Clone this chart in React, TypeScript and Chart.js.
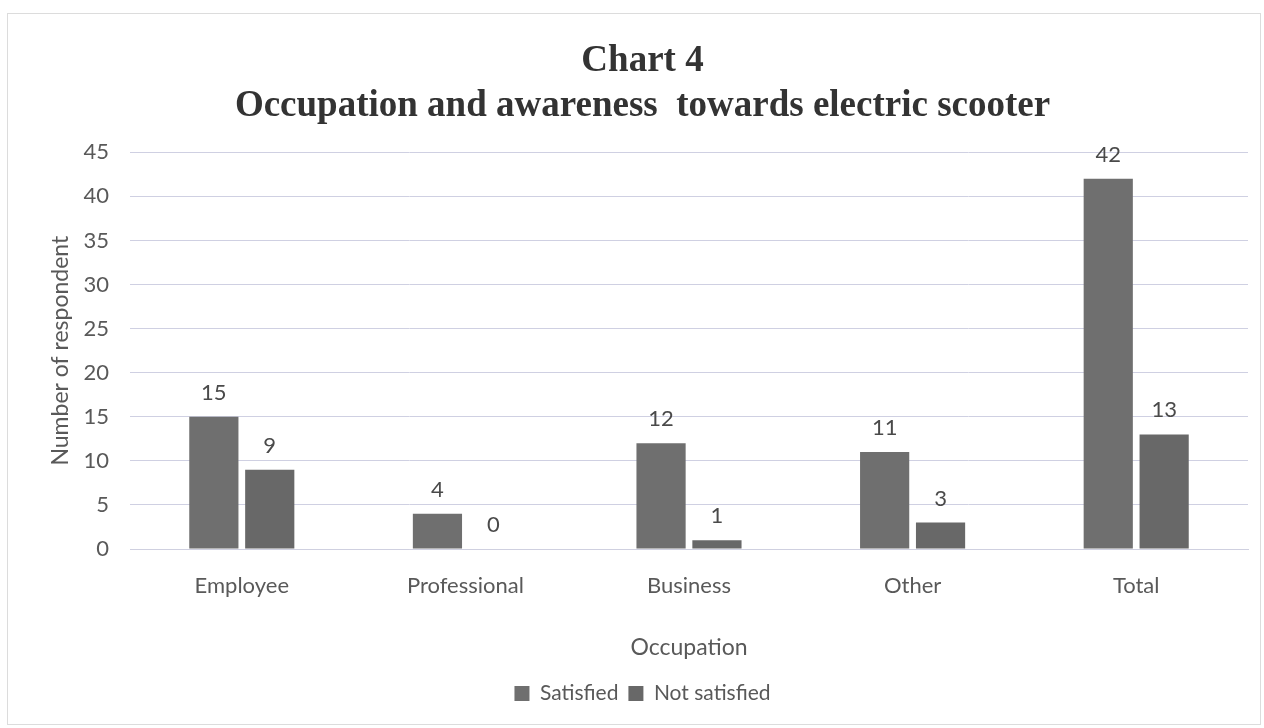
import React, { useEffect, useRef } from "react";
import { Chart, registerables } from "chart.js";

Chart.register(...registerables);

const categories = ["Employee", "Professional", "Business", "Other", "Total"];
const satisfied = [15, 4, 12, 11, 42];
const notSatisfied = [9, 0, 1, 3, 13];
const titleLines = ["Chart 4", "Occupation and awareness  towards electric scooter"];
const yTitle = "Number of respondent";
const xTitle = "Occupation";

const TICK_FONT = "Lato, 'Open Sans', sans-serif";

const dataLabels = {
  id: "dataLabels",
  afterDatasetsDraw(chart: any) {
    const ctx = chart.ctx;
    ctx.save();
    ctx.font = `22px ${TICK_FONT}`;
    ctx.fillStyle = "#4a4a4a";
    ctx.textAlign = "center";
    ctx.textBaseline = "middle";
    chart.data.datasets.forEach((ds: any, i: number) => {
      const meta = chart.getDatasetMeta(i);
      meta.data.forEach((bar: any, j: number) => {
        ctx.fillText(String(ds.data[j]), bar.x, bar.y - 24);
      });
    });
    ctx.restore();
  },
};

export default function App() {
  const ref = useRef<HTMLCanvasElement>(null);
  useEffect(() => {
    if (!ref.current) return;
    const chart = new Chart(ref.current, {
      type: "bar",
      data: {
        labels: categories,
        datasets: [
          {
            label: "Satisfied",
            data: satisfied,
            backgroundColor: "#6f6f6f",
            categoryPercentage: 0.5,
            barPercentage: 0.88,
          },
          {
            label: "Not satisfied",
            data: notSatisfied,
            backgroundColor: "#686868",
            categoryPercentage: 0.5,
            barPercentage: 0.88,
          },
        ],
      },
      options: {
        animation: false,
        responsive: false,
        layout: { padding: { top: 0, right: 16, bottom: 14, left: 37 } },
        plugins: {
          title: {
            display: true,
            text: titleLines,
            color: "#333333",
            font: { family: "'Liberation Serif', serif", size: 37, weight: "bold", lineHeight: 1.22 },
            padding: { top: 39, bottom: 23 },
          },
          legend: {
            position: "bottom",
            labels: {
              color: "#595959",
              font: { family: TICK_FONT, size: 21 },
              boxWidth: 15,
              boxHeight: 15,
              padding: 10,
            },
          },
          tooltip: { enabled: false },
        },
        scales: {
          x: {
            grid: { display: false, drawTicks: false },
            border: { display: true, color: "#cfd0e0" },
            ticks: { color: "#595959", font: { family: TICK_FONT, size: 22 }, padding: 24 },
            title: {
              display: true,
              text: xTitle,
              color: "#595959",
              font: { family: TICK_FONT, size: 23 },
              padding: { top: 10, bottom: 12 },
            },
          },
          y: {
            min: 0,
            max: 45,
            afterFit: (scale: any) => {
              scale.width = 93;
            },
            ticks: { stepSize: 5, color: "#595959", font: { family: TICK_FONT, size: 22 }, padding: 21 },
            grid: { color: "#cfd0e2", drawTicks: false },
            border: { display: false },
            title: {
              display: true,
              text: yTitle,
              color: "#595959",
              font: { family: TICK_FONT, size: 23 },
              padding: { top: 10, bottom: 0 },
            },
          },
        },
      },
      plugins: [dataLabels],
    });
    return () => chart.destroy();
  }, []);
  return (
    <div style={{ position: "absolute", left: 0, top: 0, width: 1264, height: 728, background: "#ffffff" }}>
      <div
        style={{
          position: "absolute",
          left: 7,
          top: 13,
          width: 1254,
          height: 712,
          border: "1px solid #dcdcdc",
          boxSizing: "border-box",
        }}
      />
      <canvas ref={ref} width={1264} height={728} style={{ position: "absolute", left: 0, top: 0 }} />
    </div>
  );
}
